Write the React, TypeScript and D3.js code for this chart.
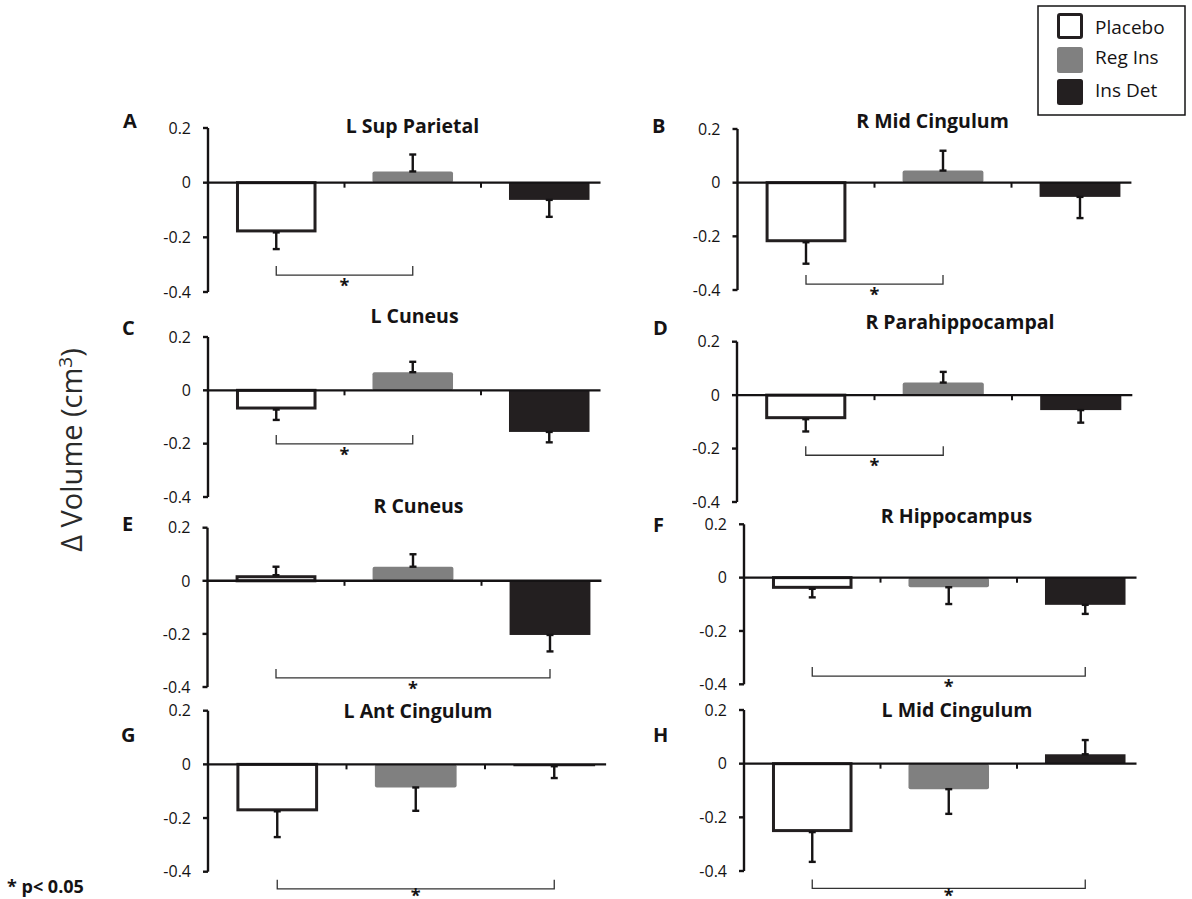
import React from 'react';
import * as d3 from 'd3';

// ---------- data ----------
const regions = [
  'L Sup Parietal',
  'R Mid Cingulum',
  'L Cuneus',
  'R Parahippocampal',
  'R Cuneus',
  'R Hippocampus',
  'L Ant Cingulum',
  'L Mid Cingulum',
];
const panelLetters = ['A', 'B', 'C', 'D', 'E', 'F', 'G', 'H'];
const groups = ['Placebo', 'Reg Ins', 'Ins Det'];

const placeboMean = [-0.182, -0.222, -0.072, -0.09, 0.021, -0.042, -0.175, -0.255];
const placeboErr = [0.061, 0.08, 0.039, 0.046, 0.032, 0.032, 0.096, 0.111];
const regInsMean = [0.041, 0.045, 0.068, 0.047, 0.053, -0.036, -0.086, -0.095];
const regInsErr = [0.062, 0.074, 0.039, 0.04, 0.047, 0.063, 0.087, 0.092];
const insDetMean = [-0.063, -0.053, -0.156, -0.056, -0.204, -0.102, -0.007, 0.035];
const insDetErr = [0.062, 0.079, 0.039, 0.047, 0.062, 0.034, 0.044, 0.053];

const yTicks = [0.2, 0, -0.2, -0.4];
const yTickLabels = ['0.2', '0', '-0.2', '-0.4'];

// significance brackets: group index from / to, and the level (data units)
const sigFrom = [0, 0, 0, 0, 0, 0, 0, 0];
const sigTo = [1, 1, 1, 1, 2, 2, 2, 2];
const sigLevel = [-0.338, -0.378, -0.201, -0.225, -0.366, -0.369, -0.464, -0.465];

const yAxisTitle = 'Δ Volume (cm';
const footnote = '* p< 0.05';

// ---------- layout (pixels) ----------
const layout = [
  { axisX: 208, step: 136.5, yTop: 128, yBot: 292, titleX: 412.5, titleY: 132.7, letterX: 123, letterY: 128.3 },
  { axisX: 737.5, step: 137, yTop: 129, yBot: 290, titleX: 932.5, titleY: 128.3, letterX: 652, letterY: 132.7 },
  { axisX: 208, step: 136.5, yTop: 337, yBot: 497, titleX: 414.5, titleY: 322.7, letterX: 122, letterY: 335 },
  { axisX: 737, step: 137.5, yTop: 341.7, yBot: 502, titleX: 960, titleY: 329.3, letterX: 653, letterY: 335 },
  { axisX: 207.5, step: 137, yTop: 527.7, yBot: 687, titleX: 418.5, titleY: 513.3, letterX: 122, letterY: 531 },
  { axisX: 744, step: 136.5, yTop: 524.3, yBot: 684.3, titleX: 956.5, titleY: 523.3, letterX: 653, letterY: 531.7 },
  { axisX: 208, step: 138.5, yTop: 710.7, yBot: 871.7, titleX: 418, titleY: 718.3, letterX: 121, letterY: 741.7 },
  { axisX: 744, step: 136.5, yTop: 710, yBot: 871, titleX: 957, titleY: 717.3, letterX: 653, letterY: 741.7 },
];

const FONT = '"Open Sans", "DejaVu Sans", sans-serif';
const INK = '#151314';
const BLACK = '#231f20';
const GRAY = '#808080';

function Panel({ i }: { i: number }) {
  const L = layout[i];
  const x = d3
    .scaleBand<string>()
    .domain(groups)
    .range([L.axisX, L.axisX + 3 * L.step])
    .paddingInner(0.41)
    .paddingOuter(0.205);
  const y = d3.scaleLinear().domain([-0.4, 0.2]).range([L.yBot, L.yTop]);
  const bw = x.bandwidth();
  const means = [placeboMean[i], regInsMean[i], insDetMean[i]];
  const errs = [placeboErr[i], regInsErr[i], insDetErr[i]];
  const y0 = y(0);
  const zeroEnd = (x(groups[2]) as number) + bw + 11;
  const step = x.step();

  const bars = groups.map((g, k) => {
    const v = means[k];
    const bx = x(g) as number;
    const y1 = y(v);
    if (k === 0) {
      const sw = 3;
      const top = v < 0 ? y0 : y1 + sw / 2;
      const h = v < 0 ? y1 - y0 - sw / 2 : y0 - y1 - sw / 2;
      return (
        <rect key={g} x={bx + sw / 2} y={top} width={bw - sw} height={Math.max(h, 0.5)}
          fill="#fff" stroke={BLACK} strokeWidth={sw} />
      );
    }
    return (
      <rect key={g} x={bx} y={Math.min(y0, y1)} width={bw} height={Math.abs(y1 - y0)}
        fill={k === 1 ? GRAY : BLACK} rx={k === 1 ? 2 : 0} />
    );
  });

  const errorBars = groups.map((g, k) => {
    const v = means[k];
    const cx = (x(g) as number) + bw / 2;
    const ya = y(v);
    const yb = y(v + (v >= 0 ? errs[k] : -errs[k]));
    const cap = 3.5;
    return (
      <g key={g} stroke={INK} strokeWidth={2.4}>
        <line x1={cx} x2={cx} y1={ya} y2={yb} />
        <line x1={cx - cap} x2={cx + cap} y1={yb} y2={yb} />
        <line x1={cx - cap} x2={cx + cap} y1={ya} y2={ya} />
      </g>
    );
  });

  const bx1 = (x(groups[sigFrom[i]]) as number) + bw / 2;
  const bx2 = (x(groups[sigTo[i]]) as number) + bw / 2;
  const by = y(sigLevel[i]);
  const starBase = Math.min(by + 17, 902);

  return (
    <g>
      <text x={L.letterX} y={L.letterY} fontFamily={FONT} fontWeight={700} fontSize={20} fill={INK}>
        {panelLetters[i]}
      </text>
      <text x={L.titleX} y={L.titleY} textAnchor="middle" fontFamily={FONT} fontWeight={700} fontSize={19.5} fill={INK}>
        {regions[i]}
      </text>
      {bars}
      {/* y axis */}
      <line x1={L.axisX} x2={L.axisX} y1={L.yTop} y2={L.yBot} stroke={INK} strokeWidth={2.4} />
      {yTicks.map((t, k) => (
        <g key={t}>
          <line x1={L.axisX - 5} x2={L.axisX} y1={y(t)} y2={y(t)} stroke={INK} strokeWidth={2.4} />
          <text x={L.axisX - 17} y={y(t)} dy="0.36em" textAnchor="end" fontFamily={FONT} fontSize={16} fill={INK}>
            {yTickLabels[k]}
          </text>
        </g>
      ))}
      {/* zero line */}
      <line x1={L.axisX} x2={zeroEnd} y1={y0} y2={y0} stroke={INK} strokeWidth={2.4} />
      {[1, 2].map((b) => {
        const tx = (x(groups[b]) as number) - (step - bw) / 2;
        return <line key={b} x1={tx} x2={tx} y1={y0} y2={y0 + 5} stroke={INK} strokeWidth={2} />;
      })}
      {errorBars}
      {/* significance bracket */}
      <path d={`M${bx1},${by - 9}V${by}H${bx2}V${by - 9}`} fill="none" stroke="#333" strokeWidth={1.3} />
      <text x={(bx1 + bx2) / 2} y={starBase} textAnchor="middle" fontFamily={FONT} fontWeight={700} fontSize={18} fill={INK}>
        *
      </text>
    </g>
  );
}

function Legend() {
  const bx = 1038, byTop = 6, w = 147, h = 109;
  const swY = [13, 47, 79];
  const labY = [34.3, 64.3, 96.5];
  return (
    <g>
      <rect x={bx} y={byTop} width={w} height={h} fill="#fff" stroke={INK} strokeWidth={1.5} />
      {groups.map((g, k) => (
        <g key={g}>
          {k === 0 ? (
            <rect x={1058.5} y={swY[k] + 1.5} width={23} height={23} fill="#fff" stroke={BLACK} strokeWidth={3} rx={1.5} />
          ) : (
            <rect x={1057} y={swY[k]} width={26} height={26} fill={k === 1 ? GRAY : BLACK} rx={2.5} />
          )}
          <text x={1095} y={labY[k]} fontFamily={FONT} fontSize={19} fill={INK}>
            {g}
          </text>
        </g>
      ))}
    </g>
  );
}

export default function App() {
  return (
    <svg width={1192} height={899} style={{ position: 'absolute', left: 0, top: 0, background: '#fff' }}>
      <rect width={1192} height={899} fill="#fff" />
      {regions.map((_, i) => (
        <Panel key={i} i={i} />
      ))}
      <Legend />
      <text transform="translate(82,450) rotate(-90)" textAnchor="middle" fontFamily={FONT} fontSize={29} fill="#2a2a2a">
        {yAxisTitle}
        <tspan dy={-10} fontSize={19}>3</tspan>
        <tspan dy={10}>)</tspan>
      </text>
      <text x={7} y={892.7} fontFamily={FONT} fontWeight={700} fontSize={18} fill={INK}>
        {footnote}
      </text>
    </svg>
  );
}
